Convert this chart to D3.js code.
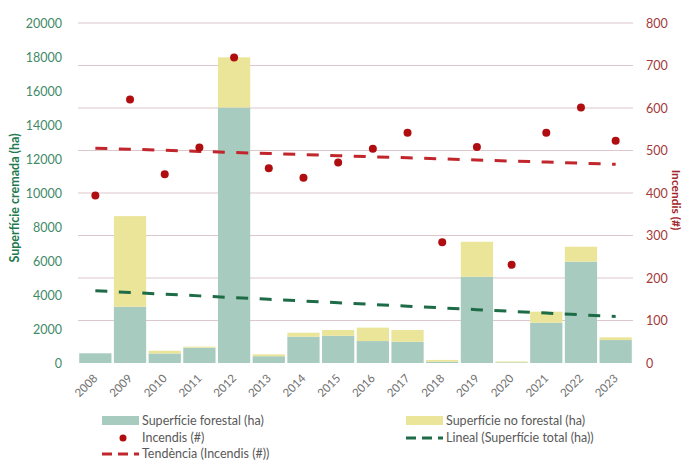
<!DOCTYPE html>
<html>
<head>
<meta charset="utf-8">
<script src="https://cdn.jsdelivr.net/npm/d3@7/dist/d3.min.js"></script>
<style>
  body { margin: 0; background: #fff; }
  svg { font-family: Lato, "Open Sans", sans-serif; }
</style>
</head>
<body>
<svg id="chart" width="684" height="461"></svg>
<script>
var years = ["2008","2009","2010","2011","2012","2013","2014","2015","2016","2017","2018","2019","2020","2021","2022","2023"];
var forestal = [570, 3310, 560, 900, 15030, 400, 1550, 1600, 1290, 1250, 80, 5075, 40, 2370, 5960, 1350];
var noForestal = [0, 5330, 160, 60, 2950, 110, 230, 340, 790, 690, 100, 2055, 50, 650, 880, 160];
var incendis = [394, 620, 444, 507, 719, 458, 436, 472, 504, 542, 284, 508, 231, 542, 601, 523];
var leftTicks = [0, 2000, 4000, 6000, 8000, 10000, 12000, 14000, 16000, 18000, 20000];
var rightTicks = [0, 100, 200, 300, 400, 500, 600, 700, 800];

var svg = d3.select("#chart");

var x = d3.scaleBand().domain(years).range([78, 633]).paddingInner(0.07).paddingOuter(0.035);
var yL = d3.scaleLinear().domain([0, 20000]).range([363, 23]);
var yR = d3.scaleLinear().domain([0, 800]).range([363, 23]);

// least squares trend, like the spreadsheet's linear trendline
function trend(vals) {
    var n = vals.length, mx = (n - 1) / 2, my = d3.mean(vals), sxy = 0, sxx = 0;
    vals.forEach(function (v, i) { sxy += (i - mx) * (v - my); sxx += (i - mx) * (i - mx); });
    var b = sxy / sxx;
    return vals.map(function (v, i) { return my + b * (i - mx); });
}

// grid
svg.append("g").selectAll("line")
    .data(rightTicks.slice(1))
    .join("line")
    .attr("x1", 78).attr("x2", 633)
    .attr("y1", function (d) { return yR(d); })
    .attr("y2", function (d) { return yR(d); })
    .attr("stroke", "#dcc8cb").attr("stroke-width", 1.2);

// bars
var bars = svg.append("g");
bars.selectAll("rect.f")
    .data(years)
    .join("rect")
    .attr("class", "f")
    .attr("x", function (d) { return x(d); })
    .attr("width", x.bandwidth())
    .attr("y", function (d, i) { return yL(forestal[i]); })
    .attr("height", function (d, i) { return yL(0) - yL(forestal[i]); })
    .attr("fill", "#a8cbbf");
bars.selectAll("rect.nf")
    .data(years)
    .join("rect")
    .attr("class", "nf")
    .attr("x", function (d) { return x(d); })
    .attr("width", x.bandwidth())
    .attr("y", function (d, i) { return yL(forestal[i] + noForestal[i]); })
    .attr("height", function (d, i) { return yL(forestal[i]) - yL(forestal[i] + noForestal[i]); })
    .attr("fill", "#ebe599");

var cx = function (d) { return x(d) + x.bandwidth() / 2; };

// trend lines
var totals = forestal.map(function (v, i) { return v + noForestal[i]; });
var totTrend = trend(totals);
var incTrend = trend(incendis);

svg.append("path")
    .datum(totTrend)
    .attr("d", d3.line().x(function (d, i) { return cx(years[i]); }).y(function (d) { return yL(d); }))
    .attr("fill", "none").attr("stroke", "#1d6b47").attr("stroke-width", 3)
    .attr("stroke-dasharray", "12,11.5");

svg.append("path")
    .datum(incTrend)
    .attr("d", d3.line().x(function (d, i) { return cx(years[i]); }).y(function (d) { return yR(d); }))
    .attr("fill", "none").attr("stroke", "#c0262b").attr("stroke-width", 3)
    .attr("stroke-dasharray", "12,11.5");

// dots
svg.append("g").selectAll("circle")
    .data(years)
    .join("circle")
    .attr("cx", cx)
    .attr("cy", function (d, i) { return yR(incendis[i]); })
    .attr("r", 4)
    .attr("fill", "#b00d10");

// left axis labels
svg.append("g").selectAll("text")
    .data(leftTicks)
    .join("text")
    .attr("x", 62)
    .attr("y", function (d) { return yL(d) + 4.5; })
    .attr("text-anchor", "end")
    .attr("font-size", 12.5)
    .attr("fill", "#3f8a68")
    .text(function (d) { return d; });

// right axis labels
svg.append("g").selectAll("text")
    .data(rightTicks)
    .join("text")
    .attr("x", 646)
    .attr("y", function (d) { return yR(d) + 4.5; })
    .attr("font-size", 12.5)
    .attr("fill", "#a3393b")
    .text(function (d) { return d; });

// axis titles
svg.append("text")
    .attr("transform", "translate(19,198) rotate(-90)")
    .attr("text-anchor", "middle")
    .attr("font-size", 12.5).attr("font-weight", "bold")
    .attr("fill", "#217a4f")
    .text("Superfície cremada (ha)");

svg.append("text")
    .attr("transform", "translate(672,200) rotate(90)")
    .attr("text-anchor", "middle")
    .attr("font-size", 12).attr("font-weight", "bold")
    .attr("fill", "#a3282b")
    .text("Incendis (#)");

// year labels
svg.append("g").selectAll("text")
    .data(years)
    .join("text")
    .attr("transform", function (d) { return "translate(" + (cx(d) + 3) + ",379) rotate(-45)"; })
    .attr("text-anchor", "end")
    .attr("font-size", 11.5)
    .attr("fill", "#707070")
    .text(function (d) { return d; });

// legend
var lg = svg.append("g").attr("font-size", 12.5).attr("fill", "#595959");
lg.append("rect").attr("x", 102).attr("y", 416).attr("width", 37).attr("height", 9).attr("fill", "#a8cbbf");
lg.append("text").attr("x", 142).attr("y", 425).text("Superfície forestal (ha)");
lg.append("rect").attr("x", 406).attr("y", 416).attr("width", 37).attr("height", 9).attr("fill", "#ebe599");
lg.append("text").attr("x", 446).attr("y", 425).text("Superfície no forestal (ha)");
lg.append("circle").attr("cx", 123).attr("cy", 438).attr("r", 3.5).attr("fill", "#b00d10");
lg.append("text").attr("x", 142).attr("y", 442).text("Incendis (#)");
lg.append("line").attr("x1", 406).attr("x2", 443).attr("y1", 438).attr("y2", 438)
    .attr("stroke", "#1d6b47").attr("stroke-width", 3).attr("stroke-dasharray", "10,6");
lg.append("text").attr("x", 446).attr("y", 442).text("Lineal (Superfície total (ha))");
lg.append("line").attr("x1", 102).attr("x2", 139).attr("y1", 454).attr("y2", 454)
    .attr("stroke", "#c0262b").attr("stroke-width", 3).attr("stroke-dasharray", "10,6");
lg.append("text").attr("x", 142).attr("y", 458).text("Tendència (Incendis (#))");
</script>
</body>
</html>
